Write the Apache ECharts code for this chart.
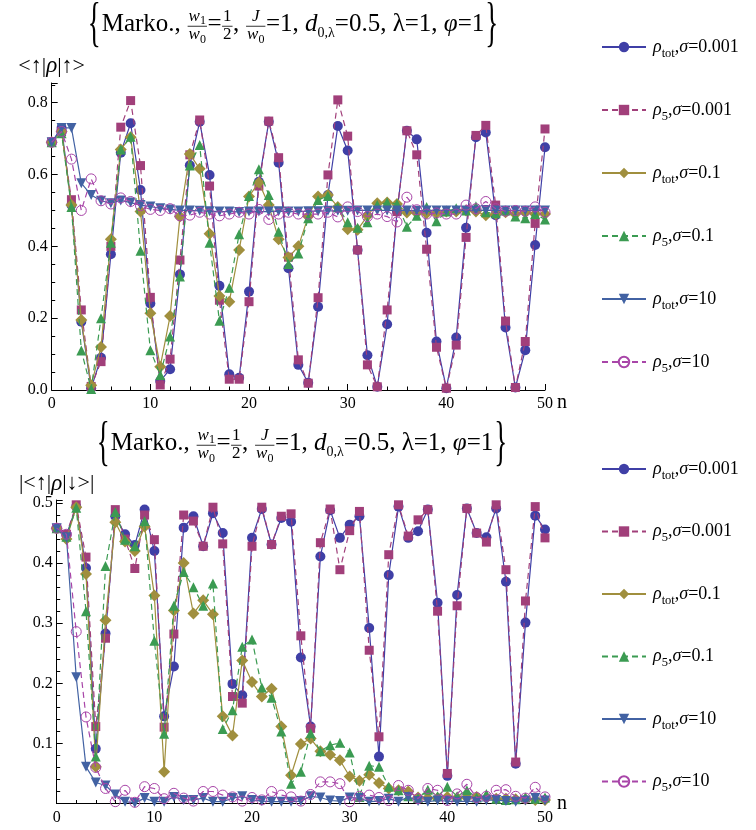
<!DOCTYPE html>
<html><head><meta charset="utf-8">
<script src="https://cdn.jsdelivr.net/npm/echarts@6/dist/echarts.min.js"></script>
<style>html,body{margin:0;padding:0;background:#fff}#c{width:756px;height:830px}</style>
</head><body><div id="c"></div><script>
const xs = [0,1,2,3,4,5,6,7,8,9,10,11,12,13,14,15,16,17,18,19,20,21,22,23,24,25,26,27,28,29,30,31,32,33,34,35,36,37,38,39,40,41,42,43,44,45,46,47,48,49,50];
const names = ['ρtot,σ=0.001','ρ5,σ=0.001','ρtot,σ=0.1','ρ5,σ=0.1','ρtot,σ=10','ρ5,σ=10'];
// top panel <↑|ρ|↑>
const topA = [0.69,0.73,0.515,0.19,0.005,0.09,0.378,0.661,0.743,0.557, 0.241,0.025,0.058,0.322,0.626,0.747,0.599,0.29,0.044,0.034, 0.274,0.58,0.747,0.633,0.339,0.07,0.02,0.232,0.543,0.735, 0.667,0.39,0.097,0.009,0.183,0.497,0.722,0.698,0.438,0.135, 0.005,0.146,0.452,0.704,0.717,0.487,0.174,0.007,0.111,0.404,0.676];
const topB = [0.69,0.72,0.53,0.223,0.01,0.079,0.40,0.732,0.806,0.625, 0.258,0.014,0.086,0.362,0.655,0.752,0.568,0.25,0.03,0.03, 0.246,0.568,0.749,0.647,0.37,0.084,0.019,0.257,0.599,0.808, 0.707,0.39,0.07,0.009,0.223,0.497,0.722,0.655,0.392,0.119, 0.005,0.125,0.425,0.709,0.737,0.515,0.192,0.007,0.135,0.464,0.727];
const topC = [0.69,0.72,0.515,0.195,0.013,0.12,0.42,0.67,0.704,0.497, 0.214,0.065,0.206,0.483,0.657,0.616,0.435,0.262,0.246,0.39, 0.539,0.578,0.515,0.42,0.369,0.40,0.483,0.539,0.543,0.51, 0.448,0.446,0.485,0.52,0.522,0.518,0.494,0.493,0.492,0.493, 0.497,0.497,0.50,0.497,0.487,0.49,0.495,0.49,0.495,0.49,0.49];
const topD = [0.69,0.715,0.51,0.11,0.003,0.20,0.41,0.67,0.705,0.388, 0.111,0.042,0.149,0.316,0.625,0.682,0.41,0.193,0.285,0.434, 0.54,0.615,0.543,0.441,0.351,0.38,0.478,0.529,0.54,0.509, 0.467,0.452,0.467,0.515,0.522,0.518,0.455,0.485,0.51,0.47, 0.497,0.506,0.5,0.512,0.495,0.492,0.5,0.483,0.478,0.49,0.475];
const topE = [0.69,0.73,0.73,0.576,0.543,0.527,0.52,0.528,0.522,0.515, 0.511,0.506,0.503,0.50,0.50,0.499,0.498,0.497,0.497,0.496, 0.497,0.497,0.497,0.498,0.497,0.497,0.498,0.498,0.499,0.499, 0.499,0.5,0.5,0.5,0.5,0.5,0.5,0.499,0.5,0.5, 0.5,0.5,0.5,0.5,0.501,0.5,0.5,0.5,0.5,0.5,0.5];
const topF = [0.69,0.72,0.643,0.50,0.588,0.527,0.518,0.535,0.525,0.513, 0.503,0.50,0.505,0.485,0.487,0.495,0.49,0.485,0.49,0.495, 0.49,0.503,0.475,0.49,0.495,0.49,0.49,0.49,0.495,0.482, 0.51,0.497,0.483,0.49,0.483,0.468,0.537,0.502,0.49,0.493, 0.49,0.49,0.515,0.505,0.525,0.505,0.498,0.5,0.498,0.51,0.495];
// bottom panel |<↑|ρ|↓>|
const botA = [0.458,0.447,0.494,0.392,0.091,0.283,0.478,0.448,0.43,0.489, 0.42,0.145,0.228,0.459,0.478,0.428,0.483,0.45,0.199,0.18, 0.442,0.49,0.431,0.475,0.469,0.243,0.128,0.411,0.488,0.442, 0.464,0.478,0.292,0.078,0.38,0.494,0.442,0.453,0.489,0.334, 0.046,0.347,0.491,0.45,0.443,0.491,0.369,0.066,0.301,0.479,0.456];
const botB = [0.458,0.448,0.497,0.41,0.128,0.275,0.489,0.44,0.391,0.48, 0.439,0.127,0.282,0.48,0.47,0.428,0.493,0.432,0.178,0.167, 0.428,0.493,0.431,0.478,0.482,0.279,0.125,0.434,0.49,0.389, 0.454,0.486,0.255,0.111,0.414,0.497,0.445,0.472,0.489,0.32, 0.05,0.329,0.491,0.45,0.435,0.497,0.389,0.069,0.337,0.494,0.442];
const botC = [0.458,0.44,0.493,0.382,0.061,0.305,0.468,0.436,0.42,0.461, 0.346,0.053,0.321,0.40,0.316,0.338,0.315,0.145,0.113,0.238, 0.202,0.178,0.191,0.128,0.047,0.099,0.108,0.087,0.081,0.072, 0.045,0.038,0.048,0.034,0.025,0.022,0.02,0.01,0.009,0.009, 0.011,0.009,0.01,0.011,0.009,0.008,0.008,0.007,0.007,0.006,0.006];
const botD = [0.458,0.444,0.492,0.32,0.078,0.395,0.485,0.439,0.428,0.47, 0.271,0.116,0.329,0.385,0.36,0.329,0.366,0.124,0.155,0.261, 0.273,0.193,0.176,0.12,0.033,0.053,0.117,0.087,0.097,0.101, 0.085,0.011,0.063,0.061,0.028,0.022,0.012,0.009,0.023,0.012, 0.028,0.012,0.022,0.01,0.016,0.008,0.006,0.007,0.01,0.008,0.01];
const botE = [0.458,0.443,0.21,0.061,0.035,0.03,0.015,0.003,0.001,0.009, 0.003,0.003,0.011,0.006,0.006,0.009,0.003,0.003,0.009,0.012, 0.006,0.004,0.003,0.003,0.003,0.004,0.012,0.01,0.005,0.004, 0.01,0.009,0.003,0.004,0.008,0.003,0.011,0.004,0.003,0.005, 0.004,0.003,0.004,0.003,0.005,0.006,0.004,0.003,0.005,0.009,0.005];
const botF = [0.458,0.448,0.286,0.144,0.06,0.025,0.003,0.022,0.002,0.028, 0.025,0.008,0.017,0.009,0.004,0.02,0.02,0.014,0.011,0.004, 0.01,0.006,0.02,0.014,0.011,0.004,0.015,0.036,0.036,0.033, 0.003,0.012,0.014,0.01,0.005,0.03,0.022,0.008,0.025,0.022, 0.005,0.016,0.032,0.01,0.012,0.022,0.023,0.012,0.009,0.027,0.011];
const topYTicks = ['0.0','0.2','0.4','0.6','0.8'];
const botYTicks = ['0.1','0.2','0.3','0.4','0.5'];
const xTicks = ['0','10','20','30','40','50'];

const FONT = '"Liberation Serif","Times New Roman",serif';
const styles = [
  {color:'#3f3fa6', sym:'circle', size:10, dash:false, open:false},
  {color:'#a13f7a', sym:'rect', size:9, dash:true, open:false},
  {color:'#a08f3e', sym:'diamond', size:12, dash:false, open:false},
  {color:'#3b9b52', sym:'triangle', size:10, dash:true, open:false},
  {color:'#4262a3', sym:'path://M0,0 L10,0 L5,8.7 Z', size:10, dash:false, open:false},
  {color:'#a845a8', sym:'circle', size:10, dash:true, open:true}
];
const topData = [topA, topB, topC, topD, topE, topF];
const botData = [botA, botB, botC, botD, botE, botF];

function mk(i, data, g) {
  const s = styles[i];
  return {
    name: names[i], type:'line', xAxisIndex:g, yAxisIndex:g,
    data: xs.map((x,k)=>[x, data[k]]),
    symbol: s.sym, symbolSize: s.size, showSymbol:true, showAllSymbol:true,
    lineStyle:{color:s.color, width:1.2, type: s.dash ? [6,4] : 'solid'},
    itemStyle: s.open ? {color:'rgba(255,255,255,0)', borderColor:s.color, borderWidth:1} : {color:s.color, borderWidth:0},
    emphasis:{disabled:true}, animation:false, z: 2 + i
  };
}
const series = [];
topData.forEach((d,i)=>series.push(mk(i,d,0)));
botData.forEach((d,i)=>series.push(mk(i,d,1)));

const mctx = document.createElement('canvas').getContext('2d');
function W(s, size, it){ mctx.font = (it?'italic ':'') + size + 'px ' + FONT; return mctx.measureText(s).width; }
function T(s, x, base, size, it){
  return {type:'text', x:x, y: base - 0.34*size, silent:true,
    style:{text:s, font:(it?'italic ':'')+size+'px '+FONT, fill:'#000', align:'left', verticalAlign:'middle'}};
}
function buildTitle(cx, base){
  const F=25, S=17, SUB=12, out=[];
  const axisY = base - 0.27*F;
  const run = parts => ({w: parts.reduce((a,p)=>a+W(p[0],p[1],p[2]),0), draw:(x,b)=>{let c=x; parts.forEach(p=>{out.push(T(p[0],c,b+(p[3]||0),p[1],p[2])); c+=W(p[0],p[1],p[2]);});}});
  const frac = (nu, de) => { const w = Math.max(nu.w, de.w) + 3; return {w, draw:(x)=>{
      nu.draw(x + (w-nu.w)/2, axisY - 4);
      de.draw(x + (w-de.w)/2, axisY + 14.5);
      out.push({type:'line', silent:true, shape:{x1:x+0.5,y1:axisY,x2:x+w-0.5,y2:axisY}, style:{stroke:'#000', lineWidth:0.8}});
    }}; };
  const brace = ch => { const sz=54, sx=0.5; const w=W(ch,sz)*sx+2; return {w, draw:(x)=>{ out.push({type:'text', x:x+1, y:axisY, scaleX:sx, silent:true, style:{text:ch, font:sz+'px '+FONT, fill:'#000', align:'left', verticalAlign:'middle'}}); }}; };
  const items = [
    brace('{'),
    run([['Marko., ',F]]),
    frac(run([['w',S,true],['1',SUB,false,3]]), run([['w',S,true],['0',SUB,false,3]])),
    run([['=',F]]),
    frac(run([['1',S]]), run([['2',S]])),
    run([[', ',F]]),
    frac(run([['J',S,true]]), run([['w',S,true],['0',SUB,false,3]])),
    run([['=1, ',F],['d',F,true],['0,λ',SUB+2,false,5],['=0.5, λ=1, ',F],['φ',F,true],['=1',F]]),
    brace('}')
  ];
  const total = items.reduce((a,it)=>a+it.w,0);
  let x = cx - total/2;
  items.forEach(it=>{ it.draw(x, base); x += it.w; });
  return out;
}

const axisCommon = {
  axisLine:{show:true, onZero:false, lineStyle:{color:'#000', width:1}},
  axisTick:{show:true, inside:true, length:6, lineStyle:{color:'#000', width:1}},
  splitLine:{show:false}, minorSplitLine:{show:false}
};
const labStyle = {color:'#000', fontFamily:FONT, fontSize:16};
function xAxis(g){
  return Object.assign({}, JSON.parse(JSON.stringify(axisCommon)), {
    type:'value', gridIndex:g, min:0, max:50, interval:10,
    minorTick:{show:true, splitNumber:5, length:3.5, lineStyle:{color:'#000'}},
    axisLabel:Object.assign({margin:6, formatter:v=>{const s=String(Math.round(v)); return (Math.abs(v-Math.round(v))<1e-6 && xTicks.includes(s))?s:'';}}, labStyle),
    name:'n', nameLocation:'end', nameGap:5,
    nameTextStyle:{color:'#000', fontFamily:FONT, fontSize:20, verticalAlign: g===0?'top':'middle', padding: g===0?[3,0,0,0]:[0,0,0,0]}
  });
}
const yName0 = '{a|<↑|}{i|ρ}{a||↑>}';
const yName1 = '{a||<↑|}{i|ρ}{a||↓>|}';
const nameRich = {a:{fontFamily:FONT, fontSize:22, color:'#000'}, i:{fontFamily:FONT, fontSize:23, fontStyle:'italic', color:'#000'}};
function yAxis(g){
  const top = g===0;
  return Object.assign({}, JSON.parse(JSON.stringify(axisCommon)), {
    type:'value', gridIndex:g, min:0, max: top?0.855:0.505, interval: top?0.2:0.1,
    minorTick:{show:true, splitNumber: top?4:5, length:3.5, lineStyle:{color:'#000'}},
    axisLabel:Object.assign({margin:4, formatter:v=>{const s=v.toFixed(1); const list= top?topYTicks:botYTicks; return (Math.abs(v-Number(s))<1e-6 && list.includes(s))?s:'';}}, labStyle),
    name: top?yName0:yName1, nameLocation:'end', nameGap: top?17:16,
    nameTextStyle:{rich:nameRich, align:'center', verticalAlign:'middle'}
  });
}

const legRich = {
  g:{width:2},
  r:{fontFamily:FONT, fontSize:18, color:'#000', lineHeight:22},
  i:{fontFamily:FONT, fontSize:18, fontStyle:'italic', color:'#000', lineHeight:22},
  s:{fontFamily:FONT, fontSize:12.5, color:'#000', lineHeight:14, verticalAlign:'bottom', padding:[0,0,-2,0]}
};
function legFmt(name){
  const m = name.match(/^ρ(tot|5),σ=(.*)$/);
  return '{g|}{i|ρ}{s|'+m[1]+'}{r|,}{i|σ}{r|='+m[2]+'}';
}
function legend(top, gap){
  return {data:names, orient:'vertical', left:596, top:top, itemWidth:44, itemHeight:13, itemGap:gap,
    formatter:legFmt, textStyle:{rich:legRich}, selectedMode:false};
}

const chart = echarts.init(document.getElementById('c'), null, {renderer:'canvas'});
chart.setOption({
  backgroundColor:'#fff', animation:false,
  grid:[
    {left:51.7, right:211, top:83, bottom:440, containLabel:false, outerBoundsMode:'none'},
    {left:56.7, right:211, top:500, bottom:26.5, containLabel:false, outerBoundsMode:'none'}
  ],
  xAxis:[xAxis(0), xAxis(1)],
  yAxis:[yAxis(0), yAxis(1)],
  legend:[legend(33, 41), legend(455, 40.5)],
  tooltip:{show:false},
  series: series,
  graphic: buildTitle(293, 33).concat(buildTitle(302, 452))
});
</script></body></html>
